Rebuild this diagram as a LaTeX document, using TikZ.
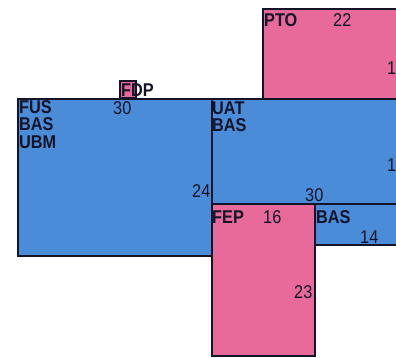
\documentclass[tikz,border=0pt]{standalone}
\usepackage{fontspec}
\setmainfont{Liberation Sans}
\newfontfamily\condfont[FakeStretch=0.88]{Liberation Sans}
\definecolor{boxblue}{RGB}{74,140,216}
\definecolor{boxpink}{RGB}{232,106,154}
\definecolor{ink}{RGB}{20,20,40}
\tikzset{
  bluebox/.style={fill=boxblue,draw=ink,line width=1.4pt},
  pinkbox/.style={fill=boxpink,draw=ink,line width=1.4pt},
  lab/.style={anchor=base west,inner sep=0pt,text height=13pt,text depth=0pt,text=ink,font=\condfont\fontsize{18.5}{18.5}\selectfont\bfseries},
  num/.style={anchor=base west,inner sep=0pt,text height=13pt,text depth=0pt,text=ink,font=\condfont\fontsize{18.5}{18.5}\selectfont},
}
\begin{document}
\begin{tikzpicture}[x=1pt,y=-1pt]
\useasboundingbox (0,0) rectangle (396,358);
\clip (0,0) rectangle (396,358);
% boxes
\path[pinkbox] (263,9) rectangle (400,100);
\path[bluebox] (18,99) rectangle (212,256);
\path[bluebox] (212,99) rectangle (400,204);
\path[pinkbox] (212,204) rectangle (315,356);
\path[bluebox] (315,204) rectangle (400,245);
\path[pinkbox] (120,81) rectangle (136,98);
% labels
\node[lab] (pto) at (264,27) {PTO};
\node[num] (n22) at (333,27) {22};
\node[num] (n1a) at (387,75) {1};
\node[lab] (fdp) at (121,97) {FDP};
\node[lab] (fus) at (19,114) {FUS};
\node[lab] (bas1) at (19,131) {BAS};
\node[lab] (ubm) at (19,149) {UBM};
\node[num] (n30a) at (113,115) {30};
\node[num] (n24) at (192,197) {24};
\node[lab] (uat) at (212,115) {UAT};
\node[lab] (bas2) at (212,132) {BAS};
\node[num] (n1b) at (387,172) {1};
\node[num] (n30b) at (305,202) {30};
\node[lab] (fep) at (212,223) {FEP};
\node[num] (n16) at (263,223) {16};
\node[num] (n23) at (294,298) {23};
\node[lab] (bas3) at (316,223) {BAS};
\node[num] (n14) at (360,243) {14};
\end{tikzpicture}
\end{document}
